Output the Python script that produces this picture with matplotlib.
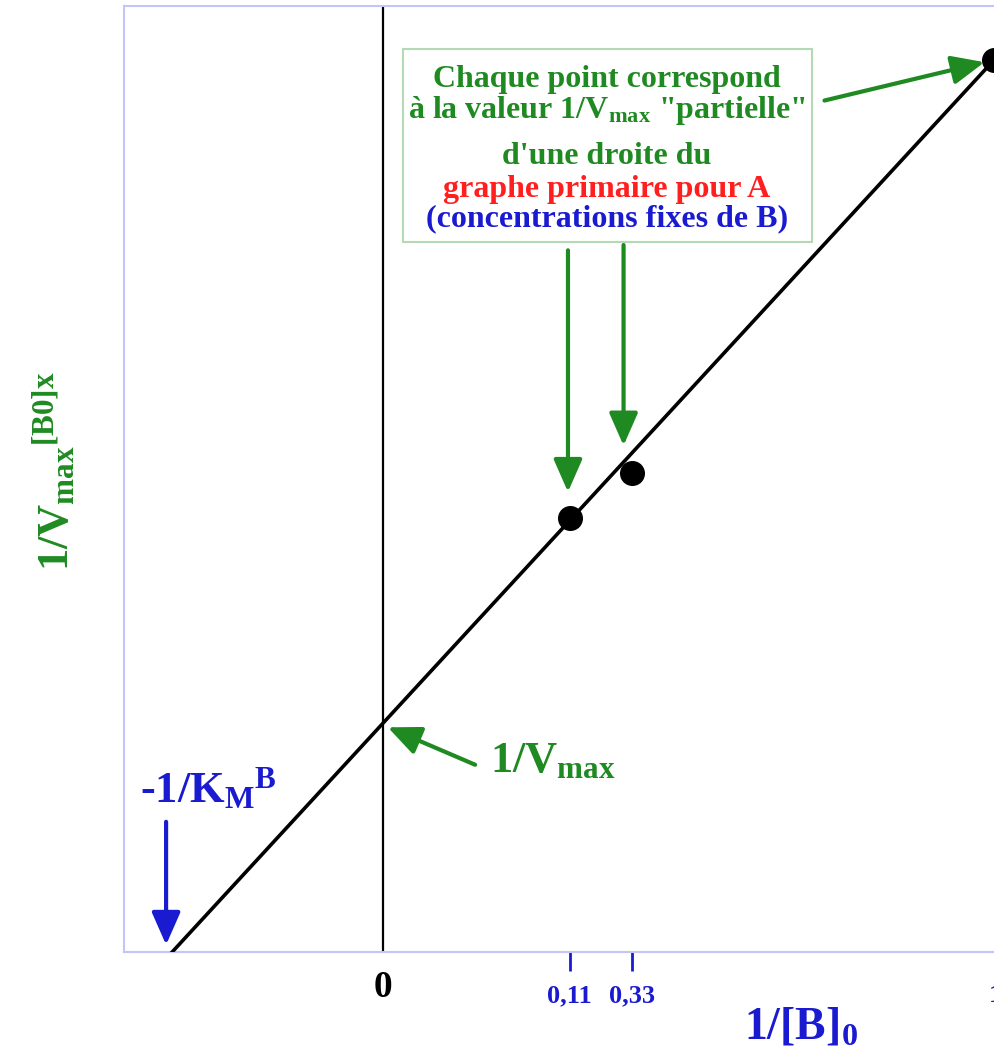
import matplotlib.pyplot as plt
from matplotlib.patches import Rectangle

plt.rcParams['mathtext.fontset'] = 'custom'
plt.rcParams['mathtext.rm'] = 'Liberation Serif:bold'
plt.rcParams['mathtext.it'] = 'Liberation Serif:bold'
plt.rcParams['mathtext.bf'] = 'Liberation Serif:bold'
plt.rcParams['font.family'] = ['Liberation Serif', 'DejaVu Serif']
plt.rcParams['font.weight'] = 'bold'

green = '#1f8a22'
blue = '#1a1ad0'
red = '#ff1f1f'

# secondary plot: 1/Vmax(partial) vs 1/[B]0 (positions)
x_km = -0.345          # -1/KM^B
y_intercept = 0.257    # 1/Vmax
line_x = [x_km, 1.0]
line_y = [0.0, 1.0]
pts_x = [0.306, 0.408, 1.0]
pts_y = [0.487, 0.537, 1.0]
tick_pos = [0.306, 0.408, 1.003]
tick_labels = ['0,11', '0,33', '1']

fig = plt.figure(figsize=(9.94, 10.56), dpi=100)
ax = fig.add_axes([0.1247, 0.0985, 0.8934, 0.8958])
ax.set_xlim(-0.424, 1.03)
ax.set_ylim(0, 1.061)

for s in ax.spines.values():
    s.set_color('#c4c4fa')
    s.set_linewidth(1.5)

ax.set_yticks([])
ax.set_xticks(tick_pos)
ax.set_xticklabels(tick_labels, color=blue, fontsize=19, fontweight='bold')
ax.tick_params(axis='x', direction='out', length=14, width=2, color=blue, pad=9)

# axis x = 0
ax.axvline(0, color='black', lw=1.6, zorder=2)
ax.plot(line_x, line_y, color='black', lw=2.6, zorder=3)
ax.plot(pts_x, pts_y, 'o', color='black', ms=17, zorder=4, clip_on=False)

ax.text(0, -0.04, '0', ha='center', va='center', fontsize=27, color='black',
        fontweight='bold')
ax.text(0.685, -0.097, r'$1/[B]_{0}$', ha='center', va='baseline', fontsize=33,
        color=blue, clip_on=False)
ax.text(-0.537, 0.539, r'$1/V_{max}{}^{[B0]x}$', rotation=90, ha='center',
        va='center', fontsize=32, color=green, clip_on=False)

# info box
ax.add_patch(Rectangle((0.033, 0.796), 0.669, 0.217, facecolor='white',
                       edgecolor='#b4dab4', lw=1.5, zorder=5))
box_lines = [
    ('Chaque point correspond', green, 0.970),
    (r'à la valeur 1/V$_{max}$ "partielle"', green, 0.935),
    ("d'une droite du", green, 0.884),
    ('graphe primaire pour A', red, 0.847),
    ('(concentrations fixes de B)', blue, 0.814),
]
for txt, col, yy in box_lines:
    ax.text(0.367, yy, txt, ha='center', va='baseline', fontsize=23,
            color=col, fontweight='bold', zorder=6)

arrow = dict(arrowstyle='-|>,head_length=0.5,head_width=0.22', lw=3,
             color=green, mutation_scale=40, shrinkA=0, shrinkB=0)
ax.annotate('', xy=(0.985, 0.998), xytext=(0.723, 0.955), arrowprops=arrow)
ax.annotate('', xy=(0.303, 0.516), xytext=(0.303, 0.787), arrowprops=arrow)
ax.annotate('', xy=(0.394, 0.568), xytext=(0.394, 0.793), arrowprops=arrow)
ax.annotate('', xy=(0.008, 0.252), xytext=(0.151, 0.210), arrowprops=arrow)
ax.text(0.175, 0.202, r'$1/V_{max}$', ha='left', va='baseline', fontsize=32,
        color=green)

blue_arrow = dict(arrow, color=blue)
ax.annotate('', xy=(-0.355, 0.008), xytext=(-0.355, 0.146), arrowprops=blue_arrow)
ax.text(-0.398, 0.168, r'-$1/K_{M}{}^{B}$', ha='left', va='baseline', fontsize=32,
        color=blue, fontweight='bold')

plt.savefig('out.png', dpi=100)
plt.close(fig)
